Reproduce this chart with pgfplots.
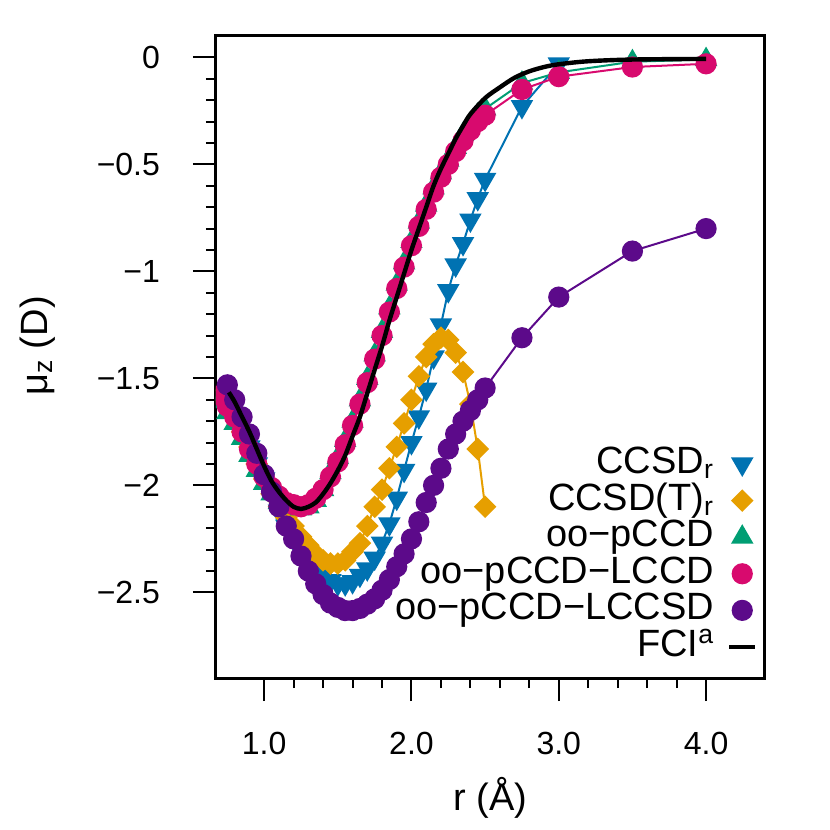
\documentclass[border=0pt]{standalone}
\usepackage{fontspec}
\setmainfont{Liberation Sans}
\usepackage{pgfplots}
\pgfplotsset{compat=1.18}
\usepackage{pgfplotstable}

\definecolor{cblue}{RGB}{0,114,178}
\definecolor{corange}{RGB}{230,159,0}
\definecolor{cgreen}{RGB}{0,158,115}
\definecolor{cmag}{RGB}{216,10,110}
\definecolor{cpurp}{RGB}{92,10,138}

\pgfplotsset{
  mlegend/.style={legend image code/.code={\draw[##1,only marks] plot coordinates {(6.5pt,0pt)};}},
  llegend/.style={legend image code/.code={\draw[##1] (0pt,0pt) -- (13pt,0pt);}},
}

% CCSD_r
\pgfplotstableread{
r mu
0.70 -1.58
0.75 -1.63
0.80 -1.68
0.85 -1.75
0.90 -1.82
0.95 -1.90
1.00 -1.97
1.05 -2.04
1.10 -2.12
1.15 -2.19
1.20 -2.25
1.25 -2.30
1.30 -2.34
1.35 -2.38
1.40 -2.42
1.45 -2.445
1.50 -2.46
1.55 -2.46
1.60 -2.45
1.65 -2.42
1.70 -2.39
1.75 -2.34
1.80 -2.27
1.85 -2.18
1.90 -2.06
1.95 -1.93
2.00 -1.80
2.05 -1.68
2.10 -1.55
2.15 -1.40
2.20 -1.25
2.25 -1.09
2.30 -0.97
2.35 -0.87
2.40 -0.76
2.45 -0.66
2.50 -0.57
2.75 -0.23
3.00 -0.03
}\ccsd

% CCSD(T)_r
\pgfplotstableread{
r mu
0.70 -1.58
0.75 -1.63
0.80 -1.68
0.85 -1.75
0.90 -1.82
0.95 -1.90
1.00 -1.97
1.05 -2.04
1.10 -2.10
1.15 -2.15
1.20 -2.19
1.25 -2.24
1.30 -2.28
1.35 -2.32
1.40 -2.35
1.45 -2.365
1.50 -2.365
1.55 -2.35
1.60 -2.31
1.65 -2.27
1.70 -2.19
1.75 -2.10
1.80 -2.02
1.85 -1.92
1.90 -1.82
1.95 -1.71
2.00 -1.60
2.05 -1.49
2.10 -1.40
2.15 -1.34
2.20 -1.31
2.25 -1.32
2.30 -1.38
2.35 -1.47
2.40 -1.62
2.45 -1.83
2.50 -2.10
}\ccsdt

% oo-pCCD
\pgfplotstableread{
r mu
0.70 -1.61
0.75 -1.66
0.80 -1.71
0.85 -1.78
0.90 -1.86
0.95 -1.93
1.00 -1.99
1.05 -2.04
1.10 -2.08
1.15 -2.10
1.20 -2.10
1.25 -2.11
1.30 -2.10
1.35 -2.07
1.40 -2.02
1.45 -1.94
1.50 -1.87
1.55 -1.79
1.60 -1.70
1.65 -1.60
1.70 -1.50
1.75 -1.39
1.80 -1.28
1.85 -1.17
1.90 -1.06
1.95 -0.96
2.00 -0.86
2.05 -0.77
2.10 -0.69
2.15 -0.61
2.20 -0.54
2.25 -0.48
2.30 -0.42
2.35 -0.36
2.40 -0.31
2.45 -0.27
2.50 -0.24
2.75 -0.12
3.00 -0.07
3.50 -0.02
4.00 -0.01
}\pccd

% oo-pCCD-LCCD
\pgfplotstableread{
r mu
0.70 -1.58
0.75 -1.63
0.80 -1.68
0.85 -1.75
0.90 -1.83
0.95 -1.90
1.00 -1.96
1.05 -2.01
1.10 -2.05
1.15 -2.08
1.20 -2.09
1.25 -2.10
1.30 -2.09
1.35 -2.06
1.40 -2.02
1.45 -1.96
1.50 -1.89
1.55 -1.81
1.60 -1.72
1.65 -1.62
1.70 -1.52
1.75 -1.41
1.80 -1.30
1.85 -1.19
1.90 -1.08
1.95 -0.98
2.00 -0.88
2.05 -0.79
2.10 -0.71
2.15 -0.63
2.20 -0.56
2.25 -0.50
2.30 -0.44
2.35 -0.39
2.40 -0.34
2.45 -0.30
2.50 -0.27
2.75 -0.15
3.00 -0.09
3.50 -0.045
4.00 -0.03
}\lccd

% oo-pCCD-LCCSD
\pgfplotstableread{
r mu
0.75 -1.53
0.80 -1.60
0.85 -1.68
0.90 -1.76
0.95 -1.85
1.00 -1.95
1.05 -2.03
1.10 -2.10
1.15 -2.19
1.20 -2.25
1.25 -2.33
1.30 -2.40
1.35 -2.46
1.40 -2.51
1.45 -2.55
1.50 -2.57
1.55 -2.585
1.60 -2.585
1.65 -2.575
1.70 -2.555
1.75 -2.53
1.80 -2.49
1.85 -2.44
1.90 -2.38
1.95 -2.32
2.00 -2.25
2.05 -2.17
2.10 -2.08
2.15 -2.00
2.20 -1.92
2.25 -1.83
2.30 -1.76
2.35 -1.70
2.40 -1.65
2.45 -1.60
2.50 -1.545
2.75 -1.31
3.00 -1.12
3.50 -0.905
4.00 -0.80
}\lccsd

% FCI
\pgfplotstableread{
r mu
0.76 -1.565
0.80 -1.61
0.85 -1.68
0.90 -1.75
0.95 -1.83
1.00 -1.91
1.05 -1.98
1.10 -2.03
1.15 -2.07
1.20 -2.10
1.25 -2.11
1.30 -2.10
1.35 -2.08
1.40 -2.04
1.45 -1.99
1.50 -1.93
1.55 -1.86
1.60 -1.77
1.65 -1.68
1.70 -1.57
1.75 -1.46
1.80 -1.35
1.85 -1.23
1.90 -1.12
1.95 -1.01
2.00 -0.90
2.05 -0.80
2.10 -0.70
2.15 -0.60
2.20 -0.52
2.25 -0.45
2.30 -0.38
2.35 -0.32
2.40 -0.265
2.50 -0.19
2.60 -0.14
2.70 -0.095
2.80 -0.065
2.90 -0.045
3.00 -0.032
3.20 -0.018
3.50 -0.010
4.00 -0.007
}\fci

\begin{document}
\begin{tikzpicture}
\path[use as bounding box] (-108pt,-76pt) rectangle (307pt,339pt);
\begin{axis}[
  scale only axis,
  width=274.5pt, height=321pt,
  xmin=0.673, xmax=4.4,
  ymin=-2.9, ymax=0.1,
  clip marker paths=true,
  axis line style={line width=1.5pt},
  tick pos=left,
  tick align=outside,
  xtick={1,2,3,4},
  xticklabels={1.0,2.0,3.0,4.0},
  ytick={-2.5,-2,-1.5,-1,-0.5,0},
  yticklabels={−2.5,−2,−1.5,−1,−0.5,0},
  minor x tick num=4,
  minor y tick num=4,
  major tick length=11.5pt,
  minor tick length=5pt,
  every tick/.style={black, line width=1pt},
  tick label style={font=\fontsize{16}{19}\selectfont},
  xticklabel style={yshift=-12pt},
  yticklabel style={xshift=-13pt},
  xlabel={r (Å)},
  ylabel={μ\textsubscript{z} (D)},
  label style={font=\fontsize{19}{23}\selectfont},
  xlabel style={at={(axis description cs:0.5,-0.187)}, anchor=center},
  ylabel style={at={(axis description cs:-0.325,0.517)}, anchor=center},
  legend plot pos=right,
  legend cell align=right,
  legend style={at={(axis description cs:0.987,0.022)}, anchor=south east,
    draw=none, fill=none, inner sep=0pt, row sep=1.8pt, column sep=6.5pt,
    font=\fontsize{19}{21}\selectfont,
    nodes={inner sep=0pt, text height=13pt, text depth=3.5pt}},
]
\addplot[cblue, line width=1pt, mark=triangle*, mark size=5.5pt,
  mark options={rotate=180}, mlegend] table[x=r,y=mu] {\ccsd};
\addlegendentry{CCSD\textsubscript{r}}
\addplot[corange, line width=1pt, mark=square*, mark size=3.5pt,
  mark options={rotate=45}, mlegend] table[x=r,y=mu] {\ccsdt};
\addlegendentry{CCSD(T)\textsubscript{r}}
\addplot[cgreen, line width=1pt, mark=triangle*, mark size=5.5pt, mlegend]
  table[x=r,y=mu] {\pccd};
\addlegendentry{oo−pCCD}
\addplot[cmag, line width=1pt, mark=*, mark size=4.8pt, mlegend]
  table[x=r,y=mu] {\lccd};
\addlegendentry{oo−pCCD−LCCD}
\addplot[cpurp, line width=1pt, mark=*, mark size=4.8pt, mlegend]
  table[x=r,y=mu] {\lccsd};
\addlegendentry{oo−pCCD−LCCSD}
\addplot[black, line width=2.2pt, smooth, llegend] table[x=r,y=mu] {\fci};
\addlegendentry{FCI\textsuperscript{a}}
\end{axis}
\end{tikzpicture}
\end{document}
